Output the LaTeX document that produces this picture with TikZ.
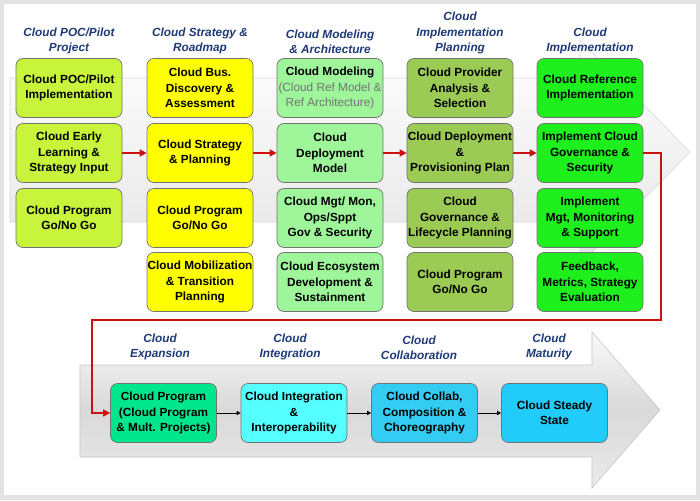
\documentclass[tikz,border=0pt]{standalone}
\usepackage{fontspec}
\setmainfont{Liberation Sans}
\usetikzlibrary{arrows.meta}
\definecolor{hdblue}{HTML}{1F3A78}
\definecolor{arrred}{HTML}{CC1111}
\definecolor{cpoc}{HTML}{C8F53C}
\definecolor{cstr}{HTML}{FFFF00}
\definecolor{cmod}{HTML}{9EF59A}
\definecolor{cpln}{HTML}{9BCB55}
\definecolor{cimp}{HTML}{1EF01E}
\definecolor{cexp}{HTML}{00E68C}
\definecolor{cint}{HTML}{55FFFF}
\definecolor{ccol}{HTML}{33CCF2}
\definecolor{cmat}{HTML}{22CCFA}

\begin{document}
\begin{tikzpicture}[x=1pt, y=-1pt,
  >=Stealth,
  bx/.style={rectangle, rounded corners=7pt, draw=black!55, line width=0.7pt, align=center, minimum width=106pt, minimum height=59pt, inner sep=0pt, font=\fontsize{11.8}{15.3}\selectfont\bfseries},
  hd/.style={align=center, anchor=south, text=hdblue, inner sep=0pt, font=\fontsize{11.8}{15.3}\selectfont\bfseries\itshape},
  ra/.style={-{Triangle[length=7pt,width=7pt]}, draw=arrred, line width=1.5pt},
  ka/.style={-{Triangle[length=4pt,width=4pt]}, black, line width=0.8pt}]
\useasboundingbox (0,0) rectangle (700,500);

% ---- frame and the two big grey arrows ----
\fill[gray!22] (0,0) rectangle (700,500);
\fill[white] (4,4) rectangle (696,495);
\path[draw=gray!30, line width=0.6pt, top color=white, bottom color=gray!20]
  (10,78) -- (580,78) -- (580,40) -- (690,152) -- (580,265) -- (580,222) -- (10,222) -- cycle;
\path[draw=gray!45, line width=0.6pt, top color=gray!4, bottom color=gray!16, middle color=gray!30]
  (80,365) -- (592,365) -- (592,332) -- (660,410) -- (592,488) -- (592,457) -- (80,457) -- cycle;

% ---- column headers ----
\node[hd] (hpoc) at (69,54)  {Cloud POC/Pilot\\Project};
\node[hd] (hstr) at (200,54) {Cloud Strategy \&\\Roadmap};
\node[hd] (hmod) at (330,54) {Cloud Modeling\\\& Architecture};
\node[hd] (hpln) at (460,54) {Cloud\\Implementation\\Planning};
\node[hd] (himp) at (590,54) {Cloud\\Implementation};

% ---- Column 1: POC / pilot ----
\node[bx, fill=cpoc] (poc1) at (69,88)  {Cloud POC/Pilot\\Implementation};
\node[bx, fill=cpoc] (poc2) at (69,153) {Cloud Early\\Learning \&\\Strategy Input};
\node[bx, fill=cpoc] (poc3) at (69,218) {Cloud Program\\Go/No Go};

% ---- Column 2: strategy ----
\node[bx, fill=cstr] (str1) at (200,88)  {Cloud Bus.\\Discovery \&\\Assessment};
\node[bx, fill=cstr] (str2) at (200,153) {Cloud Strategy\\\& Planning};
\node[bx, fill=cstr] (str3) at (200,218) {Cloud Program\\Go/No Go};
\node[bx, fill=cstr] (str4) at (200,282) {Cloud Mobilization\\\& Transition\\Planning};

% ---- Column 3: modeling ----
\node[bx, fill=cmod] (mod1) at (330,88)  {Cloud Modeling\\{\color{black!55}\mdseries(Cloud Ref Model \&}\\{\color{black!55}\mdseries Ref Architecture)}};
\node[bx, fill=cmod] (mod2) at (330,153) {Cloud\\Deployment\\Model};
\node[bx, fill=cmod] (mod3) at (330,218) {Cloud Mgt/ Mon,\\Ops/Sppt\\Gov \& Security};
\node[bx, fill=cmod] (mod4) at (330,282) {Cloud Ecosystem\\Development \&\\Sustainment};

% ---- Column 4: planning ----
\node[bx, fill=cpln] (pln1) at (460,88)  {Cloud Provider\\Analysis \&\\Selection};
\node[bx, fill=cpln] (pln2) at (460,153) {Cloud Deployment\\\&\\Provisioning Plan};
\node[bx, fill=cpln] (pln3) at (460,218) {Cloud\\Governance \&\\Lifecycle Planning};
\node[bx, fill=cpln] (pln4) at (460,282) {Cloud Program\\Go/No Go};

% ---- Column 5: implementation ----
\node[bx, fill=cimp] (imp1) at (590,88)  {Cloud Reference\\Implementation};
\node[bx, fill=cimp] (imp2) at (590,153) {Implement Cloud\\Governance \&\\Security};
\node[bx, fill=cimp] (imp3) at (590,218) {Implement\\Mgt, Monitoring\\\& Support};
\node[bx, fill=cimp] (imp4) at (590,282) {Feedback,\\Metrics, Strategy\\Evaluation};

\draw[ra] (poc2)--(str2); \draw[ra] (str2)--(mod2);
\draw[ra] (mod2)--(pln2); \draw[ra] (pln2)--(imp2);

% ---- Bottom row: expansion to maturity ----
\node[hd] (hexp) at (160,360) {Cloud\\Expansion};
\node[hd] (hint) at (290,360) {Cloud\\Integration};
\node[hd] (hcol) at (419,360) {Cloud\\Collaboration};
\node[hd] (hmat) at (549,360) {Cloud\\Maturity};
\node[bx, fill=cexp] (exp) at (163.5,413) {Cloud Program\\(Cloud Program\\\& Mult. Projects)};
\node[bx, fill=cint] (int) at (294,413)   {Cloud Integration\\\&\\Interoperability};
\node[bx, fill=ccol] (col) at (424.5,413) {Cloud Collab,\\Composition \&\\Choreography};
\node[bx, fill=cmat] (mat) at (554.5,413) {Cloud Steady\\State};
\draw[ka] (exp)--(int); \draw[ka] (int)--(col); \draw[ka] (col)--(mat);

% red loop from the top row down to the bottom row
\coordinate (lpA) at (661,320);
\coordinate (lpB) at (92,320);
\draw[ra] (imp2.east) -| (lpA) -- (lpB) |- (exp.west);
\end{tikzpicture}
\end{document}
